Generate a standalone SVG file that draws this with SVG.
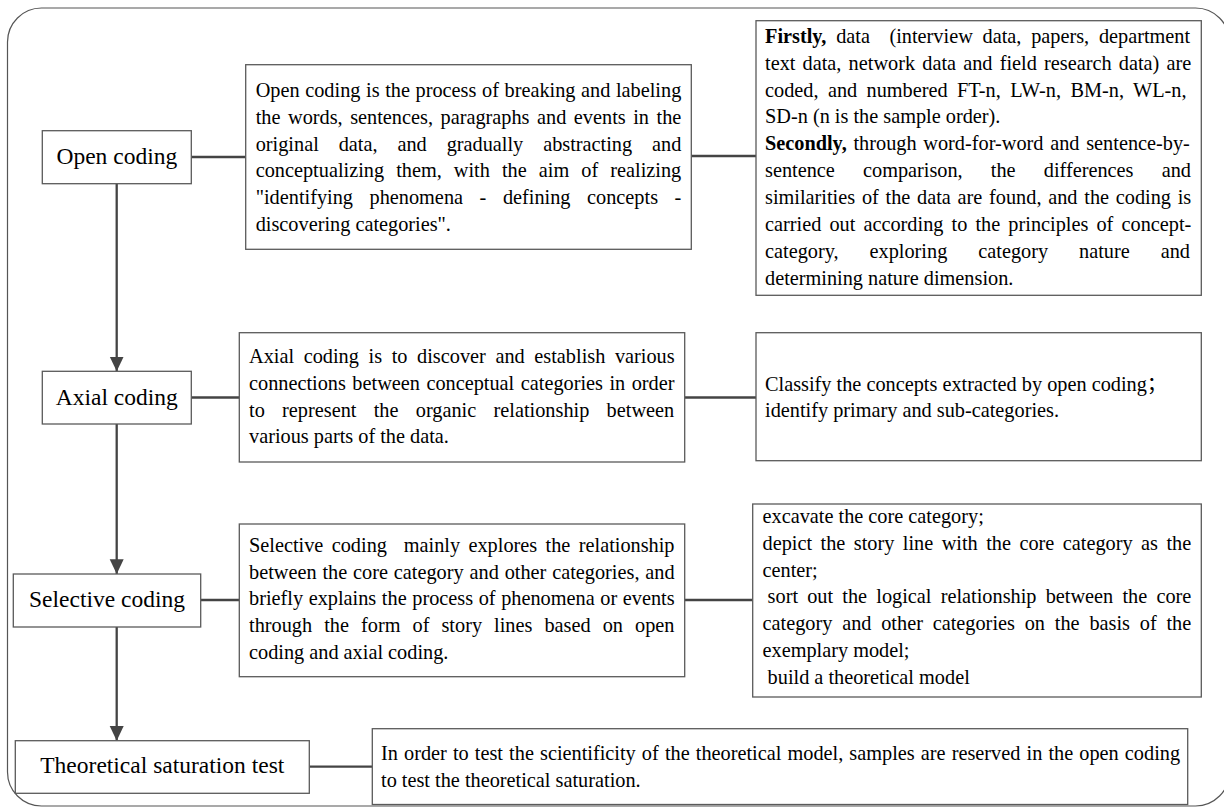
<svg xmlns="http://www.w3.org/2000/svg" width="1224" height="808" viewBox="0 0 1224 808">
<defs>
<style>
.frame{fill:none;stroke:#555;stroke-width:1.2}
.box{fill:#fff;stroke:#5a5a5a;stroke-width:1.3}
.t{font-family:"Liberation Serif","Times New Roman","Noto Sans CJK SC",serif;font-size:20.3px;fill:#000}
.lbl{font-family:"Liberation Serif","Times New Roman",serif;font-size:23.5px;fill:#000;text-anchor:middle}
.b{font-weight:bold}
.conn line{stroke:#444;stroke-width:2.3;fill:none}
</style>
<marker id="arr" markerUnits="userSpaceOnUse" markerWidth="16" markerHeight="16" viewBox="0 0 16 16" refX="14.7" refY="7" orient="auto">
<path d="M0,0 L14.7,7 L0,14 Z" fill="#444"/>
</marker>
</defs>
<rect class="frame" x="7.5" y="8" width="1222" height="798" rx="34" ry="34"/>

<g class="conn" id="connectors">
<line x1="191.3" y1="157" x2="245.7" y2="157"/>
<line x1="691.3" y1="156" x2="756" y2="156"/>
<line x1="191.3" y1="397.5" x2="239.3" y2="397.5"/>
<line x1="684.7" y1="397.5" x2="756" y2="397.5"/>
<line x1="200.7" y1="600" x2="239.3" y2="600"/>
<line x1="684.7" y1="600" x2="752.7" y2="600"/>
<line x1="309.3" y1="766.7" x2="372.3" y2="766.7"/>
<line x1="116.7" y1="183.7" x2="116.7" y2="371.3" marker-end="url(#arr)"/>
<line x1="116.7" y1="424" x2="116.7" y2="574" marker-end="url(#arr)"/>
<line x1="116.7" y1="627" x2="116.7" y2="740.7" marker-end="url(#arr)"/>
</g>

<g id="open-coding">
<rect class="box" x="42.3" y="130.7" width="149" height="53"/>
<text class="lbl" x="116.8" y="164">Open coding</text>
</g>

<g id="open-coding-desc">
<rect class="box" x="245.7" y="64.7" width="445.6" height="184.6"/>
<text class="t" x="255.7" y="97.3" style="word-spacing:0.54px">Open coding is the process of breaking and labeling</text>
<text class="t" x="255.7" y="124" style="word-spacing:2.47px">the words, sentences, paragraphs and events in the</text>
<text class="t" x="255.7" y="150.7" style="word-spacing:14.84px">original data, and gradually abstracting and</text>
<text class="t" x="255.7" y="177.3" style="word-spacing:7px">conceptualizing them, with the aim of realizing</text>
<text class="t" x="255.7" y="204" style="word-spacing:11.5px">"identifying phenomena - defining concepts -</text>
<text class="t" x="255.7" y="230.7">discovering categories".</text>
</g>

<g id="open-coding-steps">
<rect class="box" x="756" y="20.7" width="445.3" height="274.6"/>
<text class="t" x="765" y="42.7" style="word-spacing:4.68px"><tspan class="b">Firstly,</tspan> data&#160; (interview data, papers, department</text>
<text class="t" x="765" y="69.6" style="word-spacing:2.11px">text data, network data and field research data) are</text>
<text class="t" x="765" y="96.5" style="word-spacing:4.32px">coded, and numbered FT-n, LW-n, BM-n, WL-n,</text>
<text class="t" x="765" y="123.4">SD-n (n is the sample order).</text>
<text class="t" x="765" y="150.3" style="word-spacing:1.68px"><tspan class="b">Secondly,</tspan> through word-for-word and sentence-by-</text>
<text class="t" x="765" y="177.2" style="word-spacing:23.1px">sentence comparison, the differences and</text>
<text class="t" x="765" y="204.1" style="word-spacing:1.68px">similarities of the data are found, and the coding is</text>
<text class="t" x="765" y="231" style="word-spacing:3.06px">carried out according to the principles of concept-</text>
<text class="t" x="765" y="257.9" style="word-spacing:25.9px">category, exploring category nature and</text>
<text class="t" x="765" y="284.8">determining nature dimension.</text>
</g>

<g id="axial-coding">
<rect class="box" x="42.3" y="371.3" width="149" height="52.7"/>
<text class="lbl" x="116.8" y="405">Axial coding</text>
</g>

<g id="axial-coding-desc">
<rect class="box" x="239.3" y="332.7" width="445.4" height="129.3"/>
<text class="t" x="249" y="363.3" style="word-spacing:4.56px">Axial coding is to discover and establish various</text>
<text class="t" x="249" y="390" style="word-spacing:1.42px">connections between conceptual categories in order</text>
<text class="t" x="249" y="416.7" style="word-spacing:12.24px">to represent the organic relationship between</text>
<text class="t" x="249" y="443.3">various parts of the data.</text>
</g>

<g id="axial-coding-steps">
<rect class="box" x="756" y="332.7" width="445.3" height="128"/>
<text class="t" x="765" y="390.5">Classify the concepts extracted by open coding；</text>
<text class="t" x="765" y="417">identify primary and sub-categories.</text>
</g>

<g id="selective-coding">
<rect class="box" x="13.3" y="574" width="187.4" height="53"/>
<text class="lbl" x="107" y="607.3">Selective coding</text>
</g>

<g id="selective-coding-desc">
<rect class="box" x="239.3" y="524" width="445.4" height="152.7"/>
<text class="t" x="249" y="551.7" style="word-spacing:3.33px">Selective coding&#160; mainly explores the relationship</text>
<text class="t" x="249" y="578.5" style="word-spacing:0.79px">between the core category and other categories, and</text>
<text class="t" x="249" y="605.3" style="word-spacing:0.54px">briefly explains the process of phenomena or events</text>
<text class="t" x="249" y="632.1" style="word-spacing:7px">through the form of story lines based on open</text>
<text class="t" x="249" y="658.9">coding and axial coding.</text>
</g>

<g id="selective-coding-steps">
<rect class="box" x="752.7" y="504" width="448.6" height="193"/>
<text class="t" x="762.5" y="523.3">excavate the core category;</text>
<text class="t" x="762.5" y="550" style="word-spacing:3.4px">depict the story line with the core category as the</text>
<text class="t" x="762.5" y="576.7">center;</text>
<text class="t" x="767.6" y="603.4" style="word-spacing:4.13px">sort out the logical relationship between the core</text>
<text class="t" x="762.5" y="630.1" style="word-spacing:4.74px">category and other categories on the basis of the</text>
<text class="t" x="762.5" y="656.8">exemplary model;</text>
<text class="t" x="767.6" y="683.5">build a theoretical model</text>
</g>

<g id="theoretical-saturation-test">
<rect class="box" x="15.3" y="740.7" width="294" height="52.6"/>
<text class="lbl" x="162.3" y="773.3">Theoretical saturation test</text>
</g>

<g id="theoretical-saturation-desc">
<rect class="box" x="372.3" y="728.7" width="815.4" height="75.8"/>
<text class="t" x="381" y="759.5" style="word-spacing:1.05px">In order to test the scientificity of the theoretical model, samples are reserved in the open coding</text>
<text class="t" x="381" y="786.5">to test the theoretical saturation.</text>
</g>
</svg>
